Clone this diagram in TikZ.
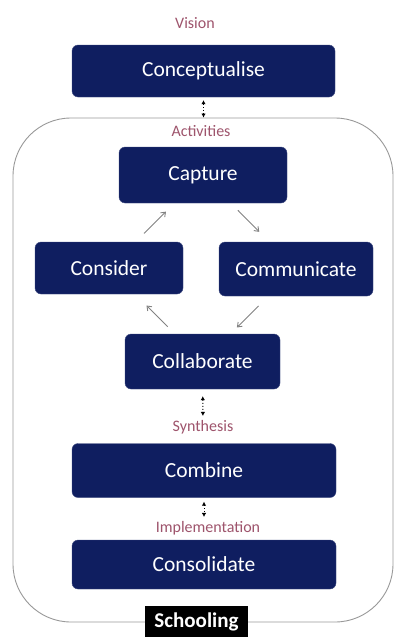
\documentclass[tikz,border=0pt]{standalone}
\usepackage{fontspec}
\setmainfont{Carlito}
\usetikzlibrary{arrows.meta}
\definecolor{navy}{RGB}{15,30,96}
\definecolor{lab}{RGB}{158,84,108}
\definecolor{cyc}{RGB}{130,130,130}
\begin{document}
\begin{tikzpicture}[x=1pt,y=-1pt,
  box/.style={draw=navy!80!white,fill=navy,rounded corners=6pt,text=white,
    font=\fontsize{21.5}{23}\selectfont,inner sep=0pt},
  lbl/.style={text=lab,font=\fontsize{16}{18}\selectfont,inner sep=0pt},
  dbl/.style={black,line width=1pt,dotted,{Latex[length=4pt,width=4.5pt]}-{Latex[length=4pt,width=4.5pt]}},
  cycarrow/.style={cyc,line width=0.9pt,-{Straight Barb[length=4pt,width=6pt]}}]
\useasboundingbox (0,0) rectangle (395,637);
\fill[white] (0,0) rectangle (395,637);
% frame
\node[draw=gray!80,line width=0.9pt,rounded corners=58pt,minimum width=380pt,minimum height=504pt,inner sep=0pt] (frame) at (203,370) {};
% labels
\node[lbl] (vision) at (195,23) {Vision};
\node[lbl] (activities) at (201,131) {Activities};
\node[lbl] (synthesis) at (203,427) {Synthesis};
\node[lbl] (implementation) at (208,528) {Implementation};
% boxes
\node[box,minimum width=263pt,minimum height=52pt] (concept) at (203.5,71) {Conceptualise};
\node[box,minimum width=168pt,minimum height=56pt] (capture) at (203,175) {Capture};
\node[box,minimum width=148pt,minimum height=52pt] (consider) at (109,268) {Consider};
\node[box,minimum width=154pt,minimum height=54pt] (communicate) at (296,269) {Communicate};
\node[box,minimum width=155pt,minimum height=55pt] (collab) at (202.5,361.5) {Collaborate};
\node[box,minimum width=264pt,minimum height=54pt] (combine) at (204,470.5) {Combine};
\node[box,minimum width=264pt,minimum height=49pt] (consolidate) at (204,564.5) {Consolidate};
% schooling
\node[fill=black,text=white,font=\fontsize{21}{23}\selectfont\bfseries,minimum width=103pt,minimum height=32pt,inner sep=0pt] (school) at (196.5,621.5) {Schooling};
% double arrows
\draw[dbl,shorten <=3pt] (concept) -- (concept.south|-frame.north);
\draw[dbl,shorten <=7pt,shorten >=4pt] (collab) -- (synthesis);
\draw[dbl,shorten <=4pt,shorten >=4pt] (combine) -- (combine.south|-implementation.north);
% cycle arrows
\draw[cycarrow,shorten <=12pt,shorten >=12pt] (consider) -- (capture);
\draw[cycarrow,shorten <=10pt,shorten >=14pt] (capture) -- (communicate);
\draw[cycarrow,shorten <=14pt,shorten >=9pt] (communicate) -- (collab);
\draw[cycarrow,shorten <=10pt,shorten >=16pt] (collab) -- (consider);
\end{tikzpicture}
\end{document}
